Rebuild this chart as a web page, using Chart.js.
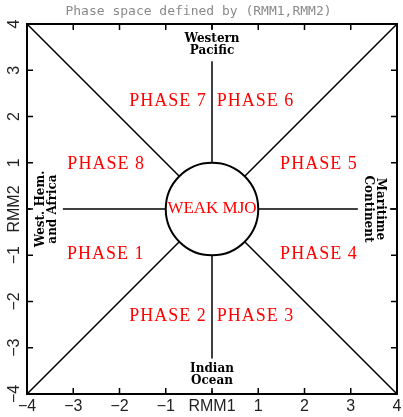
<!DOCTYPE html>
<html><head><meta charset="utf-8">
<script src="https://cdn.jsdelivr.net/npm/chart.js@4/dist/chart.umd.min.js"></script>
<style>html,body{margin:0;padding:0;background:#fff}#wrap{width:403px;height:417px}</style>
</head><body><div id="wrap"><canvas id="c" width="403" height="417"></canvas></div>
<script>
// ---------- data ----------
const TITLE = 'Phase space defined by (RMM1,RMM2)';
const TICK_VALUES = [-4, -3, -2, -1, 0, 1, 2, 3, 4];
const X_TICK_LABELS = ['\u22124', '\u22123', '\u22122', '\u22121', 'RMM1', '1', '2', '3', '4'];
const Y_TICK_LABELS = ['\u22124', '\u22123', '\u22122', '\u22121', 'RMM2', '1', '2', '3', '4'];
const AXIS_MIN = -4;
const AXIS_MAX = 4;
const WEAK_RADIUS = 1;

// phase dividing lines (start point, end point) in RMM units
const LINE_X1 = [-4, 0.7071, -4, 0.7071, -4, 1, 0, 0];
const LINE_Y1 = [-4, 0.7071, 4, -0.7071, 0, 0, -4, 1];
const LINE_X2 = [-0.7071, 4, -0.7071, 4, -1, 4, 0, 0];
const LINE_Y2 = [-0.7071, 4, 0.7071, -4, 0, 0, -1, 4];

const PHASE_LABELS = ['PHASE 1', 'PHASE 2', 'PHASE 3', 'PHASE 4', 'PHASE 5', 'PHASE 6', 'PHASE 7', 'PHASE 8', 'WEAK MJO'];
const PHASE_X = [-2.31, -0.96, 0.93, 2.30, 2.30, 0.93, -0.96, -2.30, 0];
const PHASE_Y = [-0.97, -2.31, -2.31, -0.97, 0.96, 2.33, 2.33, 0.96, 0];

const REGION_LABELS = [['Western', 'Pacific'], ['Indian', 'Ocean'], ['West. Hem.', 'and Africa'], ['Maritime', 'Continent']];
const REGION_X = [0, 0, -3.57, 3.50];
const REGION_Y = [3.54, -3.58, 0, 0];

// ---------- styles ----------
const REGION_ANGLE = [0, 0, -Math.PI / 2, Math.PI / 2];
const TICK_FONT = { family: 'Liberation Sans', size: 16 };

const datasets = LINE_X1.map((_, i) => ({
  data: [{ x: LINE_X1[i], y: LINE_Y1[i] }, { x: LINE_X2[i], y: LINE_Y2[i] }],
  showLine: true, borderColor: '#000', borderWidth: 1.5, pointRadius: 0, fill: false
}));

const overlay = {
  id: 'overlay',
  afterDatasetsDraw(chart) {
    const ctx = chart.ctx, xs = chart.scales.x, ys = chart.scales.y, a = chart.chartArea;
    const px = v => xs.getPixelForValue(v), py = v => ys.getPixelForValue(v);
    ctx.save();
    // weak MJO circle
    const cx = px(0), cy = py(0);
    const r = px(WEAK_RADIUS) - px(0);
    ctx.beginPath();
    ctx.arc(cx, cy, r, 0, Math.PI * 2);
    ctx.fillStyle = '#fff';
    ctx.fill();
    ctx.lineWidth = 2;
    ctx.strokeStyle = '#000';
    ctx.stroke();

    // region labels with white backing
    ctx.font = 'bold 12px "DejaVu Serif"';
    ctx.textAlign = 'center';
    ctx.textBaseline = 'middle';
    const lh = 12;
    REGION_LABELS.forEach((lines, i) => {
      ctx.save();
      ctx.translate(px(REGION_X[i]), py(REGION_Y[i]));
      ctx.rotate(REGION_ANGLE[i]);
      const w = Math.max(...lines.map(t => ctx.measureText(t).width));
      const h = lines.length * lh;
      ctx.fillStyle = '#fff';
      ctx.fillRect(-w / 2 - 3, -h / 2 - 4, w + 6, h + 8);
      ctx.fillStyle = '#000';
      lines.forEach((t, k) => ctx.fillText(t, 0, -h / 2 + lh / 2 + k * lh));
      ctx.restore();
    });

    // phase labels
    ctx.fillStyle = '#ff0000';
    PHASE_LABELS.forEach((t, i) => {
      const weak = i === PHASE_LABELS.length - 1;
      ctx.font = weak ? '17px "Liberation Serif"' : '18px "Liberation Serif"';
      ctx.letterSpacing = weak ? '0px' : '1px';
      ctx.fillText(t, px(PHASE_X[i]) + (weak ? 0 : 0.5), py(PHASE_Y[i]));
    });
    ctx.letterSpacing = '0px';

    // frame
    ctx.lineWidth = 2;
    ctx.strokeStyle = '#000';
    ctx.strokeRect(a.left, a.top, a.right - a.left, a.bottom - a.top);
    // inward tick marks on all four sides
    ctx.lineWidth = 1.5;
    const tl = 6;
    ctx.beginPath();
    xs.ticks.forEach(t => {
      const x = px(t.value);
      ctx.moveTo(x, a.bottom); ctx.lineTo(x, a.bottom - tl);
      ctx.moveTo(x, a.top); ctx.lineTo(x, a.top + tl);
    });
    ys.ticks.forEach(t => {
      const y = py(t.value);
      ctx.moveTo(a.left, y); ctx.lineTo(a.left + tl, y);
      ctx.moveTo(a.right, y); ctx.lineTo(a.right - tl, y);
    });
    ctx.stroke();
    ctx.restore();
  }
};

new Chart(document.getElementById('c'), {
  type: 'scatter',
  data: { datasets },
  options: {
    responsive: false, animation: false, devicePixelRatio: 1,
    layout: { padding: { left: 0, right: 6, top: 0, bottom: 0 } },
    plugins: {
      legend: { display: false }, tooltip: { enabled: false },
      title: { display: true, text: TITLE, color: '#8a8a8a',
        font: { family: 'DejaVu Sans Mono', size: 13, weight: 'normal', lineHeight: 1.2 },
        padding: { top: 4, bottom: 4.4 } }
    },
    scales: {
      x: {
        type: 'linear', min: AXIS_MIN, max: AXIS_MAX,
        grid: { display: false }, border: { display: false },
        afterBuildTicks: s => { s.ticks = TICK_VALUES.map(v => ({ value: v })); },
        ticks: { autoSkip: false, maxRotation: 0, padding: -5, color: '#222', font: TICK_FONT,
          callback: v => X_TICK_LABELS[TICK_VALUES.indexOf(v)] },
        afterFit: s => { s.height = 23; }
      },
      y: {
        type: 'linear', min: AXIS_MIN, max: AXIS_MAX,
        grid: { display: false }, border: { display: false },
        afterBuildTicks: s => { s.ticks = TICK_VALUES.map(v => ({ value: v })); },
        ticks: { autoSkip: false, minRotation: 90, maxRotation: 90, crossAlign: 'center', padding: -19,
          color: '#222', font: TICK_FONT,
          callback: v => Y_TICK_LABELS[TICK_VALUES.indexOf(v)] },
        afterFit: s => { s.width = 27; }
      }
    }
  },
  plugins: [overlay]
});
</script></body></html>
